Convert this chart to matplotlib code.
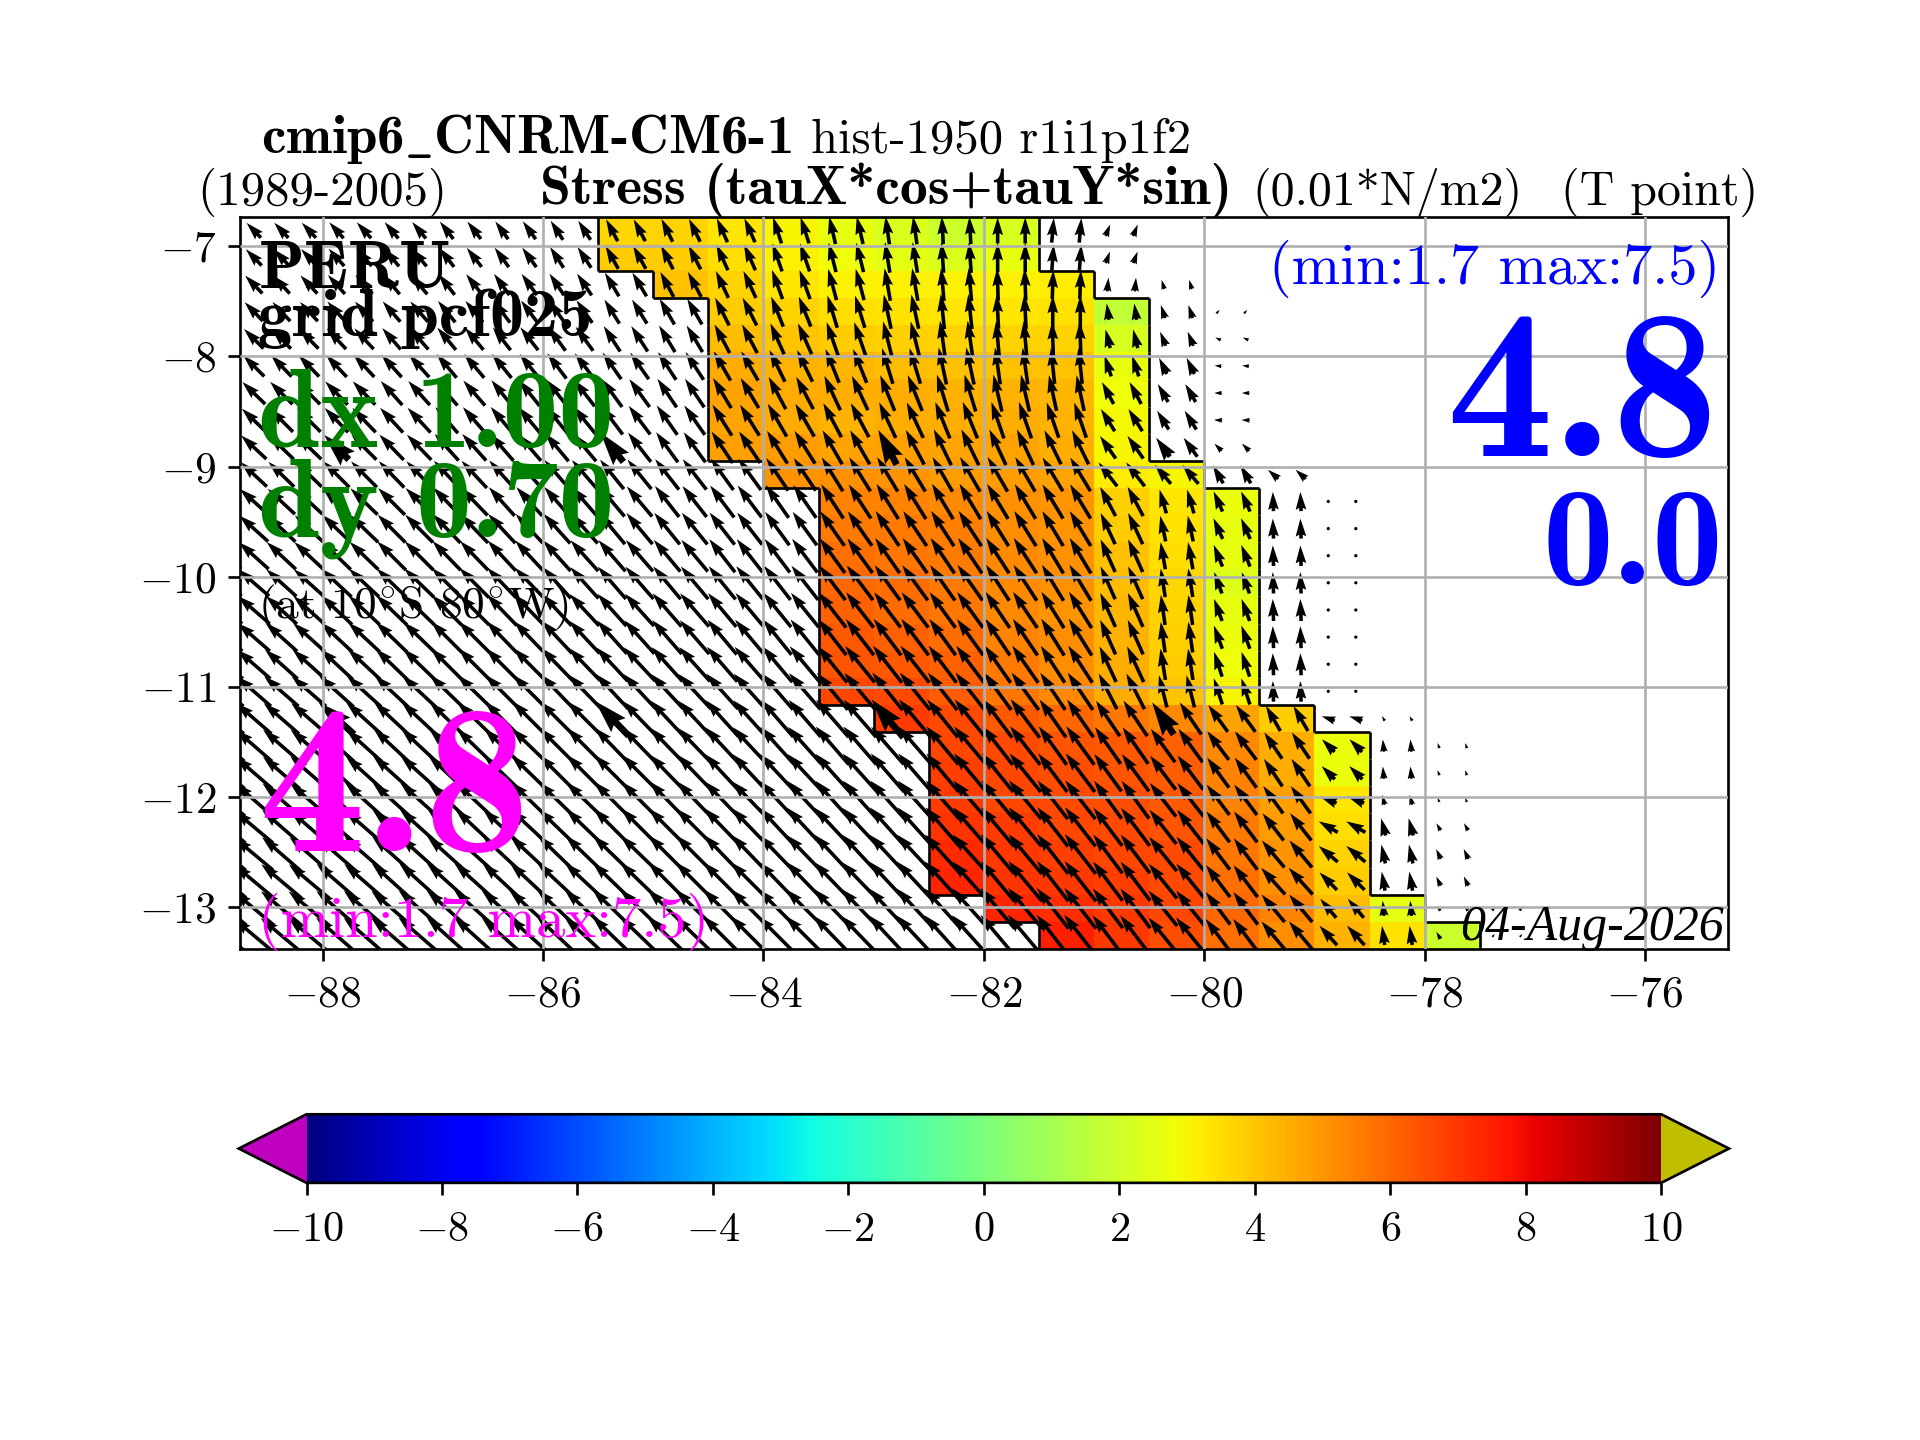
import numpy as np
import matplotlib
matplotlib.use('Agg')
import matplotlib.pyplot as plt
from matplotlib.collections import LineCollection

plt.rcParams['font.family'] = ['cmr10']
plt.rcParams['mathtext.fontset'] = 'cm'
plt.rcParams['axes.unicode_minus'] = False
plt.rcParams['axes.formatter.use_mathtext'] = True

lat_edges = [-6.733,-6.979,-7.225,-7.471,-7.717,-7.964,-8.210,-8.456,-8.702,-8.948,-9.194,-9.440,-9.686,-9.932,
             -10.178,-10.425,-10.671,-10.917,-11.163,-11.409,-11.655,-11.901,-12.147,-12.393,-12.639,-12.886,-13.132,-13.378]
lon_edges = [-85.5,-85,-84.5,-84,-83.5,-83,-82.5,-82,-81.5,-81,-80.5,-80,-79.5,-79,-78.5,-78,-77.5]
row_start = [0,0,1,2,2,2,2,2,2,3,4,4,4,4,4,4,4,4,5,6,6,6,6,6,6,7,8]
stress = [
 [3.6,3.7,3.3,3.0,2.6,2.3,1.9,2.2],[3.9,3.9,3.5,3.1,2.8,2.5,2.3,2.6],[4.1,3.7,3.3,3.1,3.1,3.1,3.1,3.2],
 [3.9,3.7,3.5,3.4,3.3,3.3,3.4,1.7],[4.2,4.0,3.9,3.8,3.7,3.7,3.7,2.2],[4.6,4.4,4.3,4.2,4.1,4.1,4.1,2.6],
 [4.7,4.6,4.5,4.5,4.4,4.4,4.3,2.8],[4.7,4.6,4.4,4.5,4.5,4.5,4.4,2.9],[4.8,4.9,4.7,4.8,4.7,4.7,4.5,3.0],
 [5.0,5.1,5.0,4.9,4.9,4.7,3.2,3.0],[5.4,5.4,5.3,5.1,5.0,3.8,3.3,2.7],[5.6,5.6,5.5,5.2,5.0,3.9,3.4,2.6],
 [5.8,5.7,5.6,5.3,5.1,4.1,3.5,2.6],[6.0,5.9,5.6,5.3,5.1,4.2,3.6,2.4],[6.1,5.9,5.7,5.3,5.0,4.3,3.7,2.6],
 [6.3,6.1,5.9,5.4,5.2,4.4,3.8,2.7],[6.4,6.3,6.1,5.6,5.2,4.5,3.9,2.8],[6.7,6.6,6.2,5.7,5.3,4.6,4.0,3.0],
 [6.9,6.6,6.3,6.0,5.7,5.3,4.7,3.9],[6.7,6.6,6.4,6.3,6.1,5.3,4.5,2.7],[6.8,6.7,6.5,6.4,6.2,5.4,4.6,2.7],
 [6.9,6.7,6.6,6.5,6.3,5.4,4.8,3.3],[7.1,6.9,6.7,6.6,6.4,5.6,4.9,3.5],[7.3,7.0,6.8,6.7,6.6,5.7,5.0,3.7],
 [7.4,7.1,7.0,6.8,6.6,5.8,5.1,3.9],[7.4,7.2,7.0,6.7,6.0,5.4,4.2,2.5],[7.5,7.0,6.5,5.8,5.2,4.4,3.4,1.9]]

arrow_speed = [
 [30,30,31,31,32,32,33,36,37,38,40,41,41,40,38,36,18],
 [33,33,34,34,35,35,36,38,39,41,43,44,45,45,43,38,18],
 [36,36,37,37,38,38,38,40,41,43,45,47,48,48,47,42,20,14],
 [38,38,39,39,40,40,40,41,43,45,47,49,51,51,50,47,24,20,7],
 [40,40,41,41,42,42,43,44,45,47,49,51,52,53,52,50,28,22,9],
 [43,43,44,44,45,45,46,47,48,49,51,53,54,55,54,52,32,26,10],
 [46,46,47,47,48,48,49,50,50,51,53,55,56,56,55,53,36,30,11],
 [48,48,49,49,50,50,51,52,52,53,55,56,57,57,56,54,38,32,12],
 [50,50,51,51,52,52,53,54,54,55,56,57,57,58,57,55,40,34,15],
 [52,52,53,53,54,54,55,55,56,56,57,58,58,58,58,57,44,36,30,20],
 [54,54,55,55,56,56,56,57,57,58,58,59,60,60,59,58,48,36,32,28,4],
 [56,56,57,57,58,58,58,59,59,59,60,61,61,61,60,59,50,38,33,29,4],
 [58,58,58,59,59,60,60,60,60,61,61,62,62,62,61,60,52,40,34,30,3],
 [59,59,60,60,61,61,61,62,62,62,63,63,63,63,62,61,52,42,33,31,2],
 [61,61,62,62,62,63,63,63,64,64,64,65,64,64,63,62,54,44,34,32,2],
 [62,62,63,63,64,64,65,65,65,66,66,66,66,65,64,63,55,45,36,32,2],
 [64,64,65,65,66,66,66,67,67,67,68,68,68,67,66,64,57,46,38,32,4],
 [66,66,67,67,68,68,68,69,69,69,70,70,70,69,67,65,58,48,40,30,3],
 [68,68,69,69,69,70,70,70,71,71,71,72,72,71,70,67,62,56,48,42,20,8],
 [70,70,70,71,71,72,72,72,72,73,73,73,72,72,71,69,65,60,52,46,26,18,8],
 [71,71,71,72,72,73,73,73,73,74,74,74,74,73,72,70,67,62,54,48,27,18,8],
 [72,72,73,73,73,74,74,74,75,75,75,75,75,74,73,71,68,62,55,49,26,15,7],
 [73,73,74,74,75,75,75,76,76,76,76,76,76,75,74,72,69,63,56,50,32,26,12],
 [74,74,75,75,76,76,77,77,77,77,77,77,77,76,75,73,70,64,57,51,36,28,16],
 [75,76,76,77,77,77,78,78,78,78,78,78,78,77,76,74,71,65,58,52,36,28,15],
 [76,77,77,78,78,78,79,79,79,79,79,79,79,78,77,75,72,66,59,52,36,22,9,8],
 [77,78,78,79,79,79,80,80,80,80,80,80,80,79,78,76,73,67,60,53,38,28,12,6,6]]
arrow_angle = [
 [44,43,42,40,38,36,33,28,26,24,18,13,8,3,0,-5,-22],
 [44,43,42,40,38,36,33,29,27,24,19,14,9,4,0,-4,-20],
 [44,43,42,40,38,36,34,31,28,25,20,15,10,5,2,-2,-5,15],
 [44,43,42,41,39,37,35,32,30,27,22,17,12,6,3,0,8,18,-40],
 [45,44,43,41,40,38,36,33,31,28,24,19,14,8,5,2,14,22,65],
 [45,44,43,42,40,39,37,35,33,30,26,22,17,12,8,6,18,26,85],
 [46,45,44,42,41,39,38,36,34,31,28,25,22,17,13,12,28,30,90],
 [46,45,44,43,41,40,39,37,35,32,30,28,25,22,19,19,32,32,88],
 [47,46,45,44,42,41,40,38,36,34,32,30,28,26,25,26,35,36,45],
 [47,46,45,44,43,42,41,39,38,36,34,32,31,30,30,31,38,40,30,48],
 [48,47,46,45,44,42,41,40,38,37,35,33,32,31,31,31,28,16,24,2,0],
 [48,47,46,45,44,43,42,40,39,38,36,35,34,33,32,31,25,12,24,2,0],
 [48,47,46,45,44,43,42,41,40,38,37,36,35,34,33,31,24,10,22,2,0],
 [49,48,47,46,45,44,42,41,40,39,38,37,36,35,33,31,24,9,20,2,0],
 [49,48,47,46,45,44,43,42,41,40,39,38,37,36,34,32,24,8,20,2,0],
 [49,48,47,46,45,44,43,42,41,40,39,38,37,36,34,32,24,8,20,2,0],
 [49,48,47,46,45,45,44,43,42,41,40,39,38,37,35,33,25,9,18,2,0],
 [49,49,48,47,46,45,44,43,43,42,41,40,39,38,36,34,27,14,18,2,0],
 [49,49,48,47,46,45,45,44,43,42,41,41,40,39,37,35,34,34,36,30,72,30],
 [49,49,48,47,46,46,45,44,44,43,42,41,41,40,38,36,35,36,37,34,45,5,20],
 [49,49,48,48,47,46,45,45,44,43,43,42,41,40,39,37,36,37,36,34,45,5,20],
 [49,49,48,48,47,46,46,45,44,44,43,42,42,41,40,38,36,38,37,36,68,15,20],
 [50,49,49,48,47,47,46,45,45,44,43,43,42,41,40,38,37,38,37,38,60,15,30],
 [50,49,49,48,48,47,46,46,45,44,44,43,43,42,40,38,37,39,37,40,50,12,25],
 [50,50,49,48,48,47,47,46,45,45,44,44,43,42,40,38,37,39,37,42,45,10,25],
 [50,50,49,49,48,48,47,46,46,45,45,44,43,42,40,38,37,39,37,40,40,5,40,-30],
 [50,50,49,49,48,48,47,46,46,45,45,44,43,42,40,38,37,39,37,40,42,8,30,-40,-30]]
big_arrow_lons = [-87.875,-85.375,-82.875,-80.375]
big_arrow_rows = [8,18]

x_ticks = [-88,-86,-84,-82,-80,-78,-76]
y_ticks = [-7,-8,-9,-10,-11,-12,-13]
cbar_ticks = [-10,-8,-6,-4,-2,0,2,4,6,8,10]

W, H = 1568.0, 1176.0
fig = plt.figure(figsize=(8, 6), dpi=240)
ax = fig.add_axes([196/W, 1-775/H, (1411-196)/W, (775-177)/H])

cmap = plt.get_cmap('jet').copy()
cmap.set_over('#bfbf00')
cmap.set_under('#bf00bf')

grid = np.full((27, 16), np.nan)
for k, (s, vals) in enumerate(zip(row_start, stress)):
    grid[k, s:s+len(vals)] = vals
mesh = ax.pcolormesh(lon_edges, lat_edges, grid, cmap=cmap, vmin=-10, vmax=10, zorder=0, linewidth=0)

segs = []
for k in range(27):
    for c in range(16):
        here = not np.isnan(grid[k, c])
        if c < 15 and here != (not np.isnan(grid[k, c+1])):
            segs.append([(lon_edges[c+1], lat_edges[k]), (lon_edges[c+1], lat_edges[k+1])])
        if c == 0 and here:
            segs.append([(lon_edges[0], lat_edges[k]), (lon_edges[0], lat_edges[k+1])])
        if c == 15 and here:
            segs.append([(lon_edges[16], lat_edges[k]), (lon_edges[16], lat_edges[k+1])])
        if k < 26 and here != (not np.isnan(grid[k+1, c])):
            segs.append([(lon_edges[c], lat_edges[k+1]), (lon_edges[c+1], lat_edges[k+1])])
ax.add_collection(LineCollection(segs, colors='k', linewidths=0.8, zorder=0.5))

X, Y, U, V, BX, BY, BU, BV = [], [], [], [], [], [], [], []
for k, (sp, an) in enumerate(zip(arrow_speed, arrow_angle)):
    yc = 0.5*(lat_edges[k]+lat_edges[k+1])
    for j, (s, a) in enumerate(zip(sp, an)):
        u = -0.1*s*np.sin(np.radians(a))
        v = 0.1*s*np.cos(np.radians(a))
        for off in (0.125, 0.375):
            xc = -89 + 0.5*j + off
            if k in big_arrow_rows and xc in big_arrow_lons:
                BX.append(xc); BY.append(yc); BU.append(u); BV.append(v)
            else:
                X.append(xc); Y.append(yc); U.append(u); V.append(v)
qkw = dict(angles='uv', scale_units='x', scale=16, pivot='mid', color='k', units='width', zorder=1)
ax.quiver(X, Y, U, V, width=0.0024, **qkw)
ax.quiver(BX, BY, BU, BV, width=0.0045, **qkw)

ax.set_xlim(-88.75, -75.25)
ax.set_ylim(-13.378, -6.733)
ax.set_xticks(x_ticks)
ax.set_xticklabels([f'${t}$' for t in x_ticks], fontsize=13)
ax.set_yticks(y_ticks)
ax.set_yticklabels([f'${t}$' for t in y_ticks], fontsize=13)
ax.tick_params(axis='x', pad=4.5)
ax.grid(True, color='#b0b0b0', linewidth=0.8)
ax.set_axisbelow(False)

def T(x, y, s, size, color='k', ha='left', font='cmr10', **kw):
    fig.text(x/W, 1-y/H, s, fontsize=size, color=color, ha=ha, va='baseline', family=font, zorder=5, **kw)

T(213, 125, r'cmip6$\_$CNRM-CM6-1', 16.5, font='cmb10')
T(662, 125, 'hist-1950 r1i1p1f2', 14.6)
T(161, 167, '(1989-2005)', 14.7)
T(441, 167, 'Stress (tauX*cos+tauY*sin)', 16.7, font='cmb10')
T(1023, 167, '(0.01*N/m2)', 14.4)
T(1275, 167, '(T point)', 14.4)
T(211, 235, 'PERU', 20.2, font='cmb10')
T(211, 274, 'grid pcf025', 20.5, font='cmb10')
T(211, 365, 'dx 1.00', 33.5, 'green', font='cmb10')
T(211, 438, 'dy 0.70', 33.5, 'green', font='cmb10')
T(211, 505, r'(at 10$^{\!\circ\!}$S 80$^{\!\circ\!}$W)', 13.6)
T(211, 695, '4.8', 64, 'magenta', font='cmb10')
T(211, 765, '(min:1.7 max:7.5)', 17.5, 'magenta')
T(1405, 232, '(min:1.7 max:7.5)', 17.5, 'blue', ha='right')
T(1403, 372, '4.8', 64, 'blue', ha='right', font='cmb10')
T(1407, 477, '0.0', 42.5, 'blue', ha='right', font='cmb10')
T(1408, 768, '04-Aug-2026', 15, ha='right', font='Liberation Serif', style='italic')

cax = fig.add_axes([195/W, 1-966/H, (1412-195)/W, (966-910)/H])
cb = fig.colorbar(mesh, cax=cax, orientation='horizontal', extend='both', ticks=cbar_ticks)
cb.ax.set_xticklabels([f'${t}$' for t in cbar_ticks], fontsize=12.7)
cb.ax.tick_params(axis='x', pad=5)

fig.savefig('out.png', dpi=240)
